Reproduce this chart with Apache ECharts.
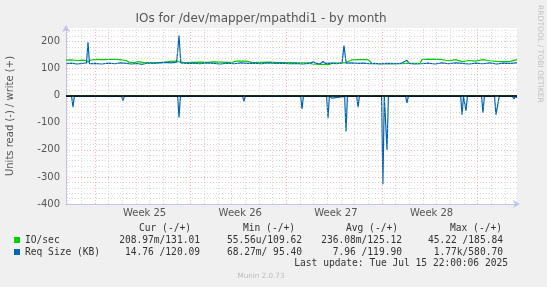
<!DOCTYPE html>
<html><head><meta charset="utf-8">
<script src="https://cdn.jsdelivr.net/npm/echarts@6/dist/echarts.min.js"></script>
<style>html,body{margin:0;padding:0;background:#F0F0F0}#c{width:547px;height:287px}</style>
</head><body><div id="c"></div>
<script>
// x = days since left edge of the 33-day window
const ioWrite = [[0,131],[0.4,132],[0.8,130],[1.2,131],[1.46,130],[1.61,124],[1.76,131],[2.2,134],[2.7,133],[3.2,134],[3.7,134],[3.95,133],[4.4,130],[4.6,124],[5.0,122],[5.3,126],[5.8,121],[6.2,122],[6.9,121],[7.4,125],[7.6,127],[8.1,128],[8.3,125],[8.7,122],[9.2,123],[9.8,124],[10.3,123],[10.8,125],[11.3,124],[11.8,123],[12.2,124],[12.5,128],[13.0,128],[13.3,127],[13.6,122],[14.2,123],[14.9,124],[15.5,122],[16.4,122],[17.0,121],[17.85,121],[18.0,117],[18.6,116],[19.3,116],[19.5,121],[20.0,120],[20.4,121],[20.9,132],[21.5,133],[22.1,133],[22.4,119],[23.0,118],[23.8,119],[24.4,118],[25.0,119],[25.9,119],[26.05,134],[26.6,135],[27.4,134],[27.8,131],[28.1,129],[28.5,133],[29.0,126],[29.5,130],[30.0,128],[30.5,133],[31.0,129],[31.5,127],[32.0,126],[32.5,127],[33,133]];
const reqWrite = [[0,118],[0.4,120],[0.8,117],[1.2,119],[1.5,121],[1.61,197],[1.72,118],[2.1,119],[2.6,117],[3.1,120],[3.6,118],[4.0,121],[4.4,119],[4.8,117],[5.2,119],[5.6,116],[6.0,121],[6.4,119],[6.9,122],[7.3,123],[7.7,121],[8.1,124],[8.27,222],[8.4,121],[8.8,119],[9.3,120],[9.8,118],[10.3,121],[10.8,119],[11.3,117],[11.8,120],[12.3,118],[12.8,121],[13.3,119],[13.8,120],[14.3,118],[14.8,121],[15.3,119],[15.8,120],[16.3,118],[16.8,119],[17.3,117],[17.8,119],[18.1,125],[18.3,119],[18.6,118],[18.8,126],[19.0,119],[19.4,120],[19.8,118],[20.2,121],[20.34,185],[20.5,120],[20.9,121],[21.4,119],[21.8,120],[22.2,118],[22.6,119],[23.0,117],[23.5,119],[24.0,118],[24.5,119],[24.95,131],[25.1,119],[25.5,117],[26.0,118],[26.5,120],[27.0,117],[27.5,121],[28.0,118],[28.5,121],[29.0,119],[29.5,117],[30.0,120],[30.5,118],[31.0,121],[31.5,117],[32.0,120],[32.5,119],[33,121]];
const ioRead = [[0,-0.3],[8,-0.2],[16,-0.4],[23.2,-0.5],[33,-0.2]];
const reqRead = [[0,-2.5],[0.41,-2.5],[0.51,-42],[0.61,-2.5],[1.5,-2.5],[1.61,-6],[1.72,-2.5],[4.07,-2.5],[4.17,-18],[4.27,-2.5],[5.83,-2.5],[5.93,-6],[6.03,-2.5],[8.17,-2.5],[8.27,-80],[8.37,-2.5],[12.92,-2.5],[13.02,-21],[13.12,-2.5],[17.17,-2.5],[17.27,-49],[17.37,-2.5],[19.07,-2.5],[19.17,-83],[19.27,-2.5],[19.45,-9],[19.55,-2.5],[20.39,-2.5],[20.49,-132],[20.59,-2.5],[21.27,-2.5],[21.37,-42],[21.47,-2.5],[23.09,-2.5],[23.19,-327],[23.29,-2.5],[23.39,-2.5],[23.49,-200],[23.59,-2.5],[24.85,-2.5],[24.95,-27],[25.05,-2.5],[28.88,-2.5],[28.98,-70],[29.08,-2.5],[29.17,-2.5],[29.27,-55],[29.37,-2.5],[30.41,-2.5],[30.51,-63],[30.61,-2.5],[31.36,-2.5],[31.46,-70],[31.6,-70],[31.7,-2.5],[32.68,-2.5],[32.78,-12],[32.88,-2.5],[33,-8]];

const weekLabels = ['Week 25','Week 26','Week 27','Week 28'];
const weekLabelDays = [5.75, 12.75, 19.75, 26.75];
const mondayDays = [2.12, 9.12, 16.12, 23.12, 30.12];
const yTicks = [-400,-300,-200,-100,0,100,200];

const legendHeaders = ['Cur (-/+)','Min (-/+)','Avg (-/+)','Max (-/+)'];
const legendNames = ['IO/sec','Req Size (KB)'];
const ioStats = ['208.97m/131.01','55.56u/109.62','236.08m/125.12','45.22 /185.84'];
const reqStats = ['14.76 /120.09','68.27m/ 95.40','7.96 /119.90','1.77k/580.70'];
const lastUpdate = 'Last update: Tue Jul 15 22:00:06 2025';

const GREEN = '#00CC00', BLUE = '#0066B3';
const X_MIN = 0, X_MAX = 33, Y_MIN = -400, Y_MAX = 250;

// gridline positions (axis values)
const dayLines = [], weekLines = [];
for (let k = 0; k <= 32; k++) {
  const v = +(0.12 + k).toFixed(2);
  if (mondayDays.some(m => Math.abs(m - v) < 1e-6)) weekLines.push(v); else dayLines.push(v);
}
const hMinor = [], hMajor = [];
for (let v = -380; v <= 240; v += 20) { if (v % 100 === 0) hMajor.push(v); else hMinor.push(v); }

const gridStyleMinor = {color: 'rgba(185,185,185,0.55)', width: 1, type: [1, 2]};
const gridStyleMajor = {color: 'rgba(230,110,110,0.5)', width: 1, type: [1, 2]};

function ml(items, key, style) {
  return items.map(v => ({[key]: v, lineStyle: style}));
}

const chart = echarts.init(document.getElementById('c'), null, {renderer: 'canvas'});
const mono = '9.6px "DejaVu Sans Mono"';
const txt = '#555';
const legendRightVals = [200, 302, 402, 503];
const legendRightHdr = [191, 295, 398, 502];
const graphics = [
  {type: 'text', x: 261, y: 19, style: {text: 'IOs for /dev/mapper/mpathdi1 - by month', font: '12px "DejaVu Sans"', fill: txt, textAlign: 'center', textVerticalAlign: 'middle'}},
  {type: 'text', x: 540, y: 5, rotation: -Math.PI / 2, style: {text: 'RRDTOOL / TOBI OETIKER', font: '7.6px "DejaVu Sans"', fill: '#c0c0c0', textAlign: 'left', textVerticalAlign: 'middle'}},
  {type: 'rect', shape: {x: 14, y: 237, width: 6, height: 6}, style: {fill: GREEN}},
  {type: 'rect', shape: {x: 14, y: 249, width: 6, height: 6}, style: {fill: BLUE}},
  {type: 'text', x: 25, y: 240, style: {text: legendNames[0], font: mono, fill: '#333', textVerticalAlign: 'middle'}},
  {type: 'text', x: 25, y: 252, style: {text: legendNames[1], font: mono, fill: '#333', textVerticalAlign: 'middle'}},
  {type: 'text', x: 508, y: 263.5, style: {text: lastUpdate, font: mono, fill: '#333', textAlign: 'right', textVerticalAlign: 'middle'}},
  {type: 'text', x: 261, y: 276.5, style: {text: 'Munin 2.0.73', font: '7.2px "DejaVu Sans"', fill: '#bbb', textAlign: 'center', textVerticalAlign: 'middle'}}
];
legendHeaders.forEach((h, i) => graphics.push({type: 'text', x: legendRightHdr[i], y: 228, style: {text: h, font: mono, fill: '#333', textAlign: 'right', textVerticalAlign: 'middle'}}));
ioStats.forEach((s, i) => graphics.push({type: 'text', x: legendRightVals[i], y: 240, style: {text: s, font: mono, fill: '#333', textAlign: 'right', textVerticalAlign: 'middle'}}));
reqStats.forEach((s, i) => graphics.push({type: 'text', x: legendRightVals[i], y: 252, style: {text: s, font: mono, fill: '#333', textAlign: 'right', textVerticalAlign: 'middle'}}));

const lineSeries = (name, data, color, z) => ({
  type: 'line', name, data, showSymbol: false, symbol: 'none', z,
  lineStyle: {color, width: 1.2}, itemStyle: {color}, silent: true, animation: false
});

chart.setOption({
  animation: false,
  backgroundColor: '#F0F0F0',
  textStyle: {fontFamily: 'DejaVu Sans'},
  grid: {left: 66, right: 30, top: 28, bottom: 83, show: true, backgroundColor: '#FFFFFF', borderWidth: 0, containLabel: false, outerBoundsMode: 'none'},
  xAxis: {
    type: 'value', min: X_MIN, max: X_MAX,
    axisLine: {show: true, onZero: false, lineStyle: {color: '#c4c4ec', width: 1}, symbol: ['none', 'arrow'], symbolSize: [6, 7], symbolOffset: [0, 3]},
    axisTick: {show: false},
    splitLine: {show: false},
    axisLabel: {
      customValues: weekLabelDays,
      formatter: v => { const i = weekLabelDays.findIndex(d => Math.abs(d - v) < 1e-6); return i >= 0 ? weekLabels[i] : ''; },
      color: txt, fontSize: 10, fontFamily: 'DejaVu Sans', margin: 4
    }
  },
  yAxis: {
    type: 'value', min: Y_MIN, max: Y_MAX, interval: 100,
    name: 'Units read (-) / write (+)', nameLocation: 'middle', nameGap: 51,
    nameTextStyle: {color: txt, fontSize: 10, fontFamily: 'DejaVu Sans'},
    axisLine: {show: true, lineStyle: {color: '#c4c4ec', width: 1}, symbol: ['none', 'arrow'], symbolSize: [6, 7], symbolOffset: [0, 3]},
    axisTick: {show: false},
    splitLine: {show: false},
    axisLabel: {formatter: v => yTicks.includes(v) ? String(v) : '', color: txt, fontSize: 10, fontFamily: 'DejaVu Sans', margin: 6}
  },
  series: [
    {
      type: 'line', data: [], z: 1, silent: true,
      markLine: {
        silent: true, symbol: 'none', label: {show: false}, animation: false,
        emphasis: {disabled: true},
        data: [].concat(
          ml(dayLines, 'xAxis', gridStyleMinor),
          ml(hMinor, 'yAxis', gridStyleMinor),
          ml(weekLines, 'xAxis', gridStyleMajor),
          ml(hMajor, 'yAxis', gridStyleMajor)
        )
      }
    },
    lineSeries('IO/sec read', ioRead, GREEN, 3),
    lineSeries('IO/sec write', ioWrite, GREEN, 3),
    lineSeries('Req Size read', reqRead, BLUE, 4),
    lineSeries('Req Size write', reqWrite, BLUE, 4),
    {
      type: 'line', data: [], z: 5, silent: true,
      markLine: {silent: true, symbol: 'none', label: {show: false}, animation: false, emphasis: {disabled: true},
        data: [{yAxis: 0, lineStyle: {color: '#000', width: 1.6, type: 'solid'}}]}
    }
  ],
  graphic: graphics
});
</script></body></html>
